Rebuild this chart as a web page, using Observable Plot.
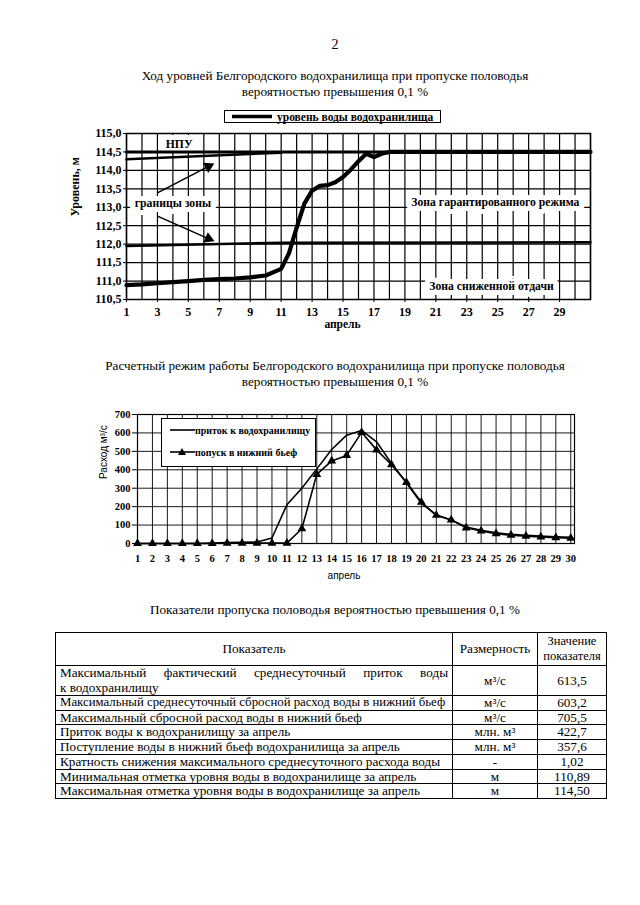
<!DOCTYPE html>
<html><head><meta charset="utf-8">
<script src="https://cdn.jsdelivr.net/npm/d3@7"></script>
<script src="https://cdn.jsdelivr.net/npm/@observablehq/plot@0.6"></script>
<style>
body{margin:0;background:#fff;}
#page{position:relative;width:640px;height:905px;overflow:hidden;font-family:"Liberation Serif","DejaVu Serif","Times New Roman",serif;color:#000;background:#fff;}
.t{position:absolute;left:35px;width:600px;text-align:center;font-size:13.2px;line-height:15.5px;}
.abs{position:absolute;}
#tbl{position:absolute;left:55px;top:632px;width:551px;border-collapse:collapse;table-layout:fixed;font-size:13.2px;}
#tbl td,#tbl th{border:1px solid #000;padding:0 4px;line-height:13.7px;height:13.7px;font-weight:normal;white-space:nowrap;overflow:hidden;}
#tbl th{height:32px;white-space:normal;}
#tbl td.c{text-align:center;}
#tbl td.j div.first{text-align:justify;text-align-last:justify;}
#tbl td.j div{line-height:14.5px;}
</style></head><body><div id="page">
<div class="t" style="top:37px;font-size:14px;">2</div>
<div class="t" style="top:68px;">Ход уровней Белгородского водохранилища при пропуске половодья<br>вероятностью превышения 0,1 %</div>
<div id="c1" class="abs" style="left:0;top:105px;"></div>
<svg class="abs" style="left:224px;top:110px;" width="218" height="14">
<rect x="0.5" y="0.5" width="216" height="12" fill="#fff" stroke="#000" stroke-width="1"/>
<line x1="8" x2="48" y1="6.5" y2="6.5" stroke="#000" stroke-width="3.5"/>
<text class="sf" x="53" y="10.5" font-weight="bold" font-size="11.5">уровень воды водохранилища</text>
</svg>
<div class="t" style="top:358px;">Расчетный режим работы Белгородского водохранилища при пропуске половодья<br>вероятностью превышения 0,1 %</div>
<div id="c2" class="abs" style="left:0;top:395px;"></div>
<svg class="abs" style="left:161px;top:418px;" width="156" height="50">
<rect x="0.5" y="0.5" width="154" height="48" fill="#fff" stroke="#000" stroke-width="1"/>
<line x1="9" x2="34" y1="12" y2="12" stroke="#000" stroke-width="1.6"/>
<text class="sf" x="34" y="15.5" font-weight="bold" font-size="10">приток к водохранилищу</text>
<line x1="9" x2="34" y1="34" y2="34" stroke="#000" stroke-width="1.6"/>
<path d="M21,30 L25,37 L17,37 Z" fill="#000"/>
<text class="sf" x="34" y="37.5" font-weight="bold" font-size="10">попуск в нижний бьеф</text>
</svg>
<div class="t" style="top:602px;">Показатели пропуска половодья вероятностью превышения 0,1 %</div>
<table id="tbl"><colgroup><col style="width:397px"><col style="width:85px"><col style="width:69px"></colgroup>
<thead><tr><th>Показатель</th><th>Размерность</th><th style="font-size:12.5px;line-height:15px;">Значение показателя</th></tr></thead>
<tbody></tbody></table>
</div>
<script>
// ---- Chart 1: reservoir level ----
const levelDays = [1,2,3,4,5,6,7,8,9,10,11,11.5,12,12.5,13,13.5,14,14.5,15,15.5,16,16.5,17,17.5,18,19,20,21,22,23,24,25,26,27,28,29,30,31];
const levelValues = [110.89,110.91,110.94,110.97,111.00,111.03,111.05,111.07,111.10,111.15,111.33,111.75,112.45,113.10,113.45,113.58,113.60,113.68,113.82,114.02,114.25,114.45,114.36,114.45,114.50,114.50,114.50,114.50,114.50,114.50,114.50,114.50,114.50,114.50,114.50,114.50,114.50,114.50];
const npuDays = [1,31];
const npuValues = [114.5,114.5];
const upperDays = [1,11];
const upperValues = [114.30,114.48];
const lowerDays = [1,11,31];
const lowerValues = [111.95,112.04,112.05];
const annLabels = ["НПУ","границы зоны","Зона гарантированного режима","Зона сниженной отдачи"];
const annDays = [4.4,4.0,24.85,24.6];
const annLevels = [114.72,113.12,113.13,110.87];
const arrowFromDays = [3.0,3.0];
const arrowFromLevels = [113.39,112.76];
const arrowToDays = [6.4,6.4];
const arrowToLevels = [114.13,112.13];
const xTicks1 = [1,3,5,7,9,11,13,15,17,19,21,23,25,27,29];
const yTicks1 = [110.5,111,111.5,112,112.5,113,113.5,114,114.5,115];
const gridDays1 = d3.range(1,32);

// ---- Chart 2: discharges ----
const flowDays = [1,2,3,4,5,6,7,8,9,10,11,12,13,14,15,16,17,18,19,20,21,22,23,24,25,26,27,28,29,30];
const inflow = [0,0,0,0,0,2,5,6,8,30,210,300,405,510,588,613.5,552,435,330,218,155,128,90,72,58,50,45,40,37,34];
const release = [0,0,0,0,0,0,2,2,2,2,2,80,375,448,478,603.2,508,428,332,224,153,128,85,68,53,45,40,36,32,29];
const yTicks2 = [0,100,200,300,400,500,600,700];

// ---- Table ----
const indicators = ["Максимальный фактический среднесуточный приток воды\nк водохранилищу","Максимальный среднесуточный сбросной расход воды в нижний бьеф","Максимальный сбросной расход воды в нижний бьеф","Приток воды к водохранилищу за апрель","Поступление воды в нижний бьеф водохранилища за апрель","Кратность снижения максимального среднесуточного расхода воды","Минимальная отметка уровня воды в водохранилище за апрель","Максимальная отметка уровня воды в водохранилище за апрель"];
const units = ["м³/с","м³/с","м³/с","млн. м³","млн. м³","-","м","м"];
const values = ["613,5","603,2","705,5","422,7","357,6","1,02","110,89","114,50"];

// pick an installed serif font
function hasFont(name) {
  const c = document.createElement("canvas").getContext("2d");
  const s = "Ход уровней Белгородского водохранилища mmwwii 0123";
  for (const base of ["monospace", "sans-serif"]) {
    c.font = `40px ${base}`; const w0 = c.measureText(s).width;
    c.font = `40px "${name}", ${base}`; const w1 = c.measureText(s).width;
    if (Math.abs(w0 - w1) > 0.5) return true;
  }
  return false;
}
const SERIF = ["Liberation Serif", "DejaVu Serif", "Noto Serif", "Times New Roman", "FreeSerif"].find(hasFont) || "serif";
const SANS = ["Liberation Sans", "Arial", "DejaVu Sans"].find(hasFont) || "sans-serif";
document.getElementById("page").style.fontFamily = `"${SERIF}", serif`;
document.querySelectorAll("text.sf").forEach(t => t.setAttribute("font-family", SERIF));

const pts = (xs, ys) => xs.map((x,i)=>({x, y: ys[i]}));
const comma = d => d.toFixed(1).replace(".", ",");

const p1 = Plot.plot({
  width: 640, height: 240,
  marginTop: 28, marginBottom: 46, marginLeft: 126, marginRight: 50,
  x: {domain: [1,31]},
  y: {domain: [110.5,115]},
  style: {fontFamily: SERIF, fontSize: "12px", fontWeight: "bold", background: "transparent", overflow: "visible"},
  marks: [
    Plot.ruleX(gridDays1, {stroke: "#000", strokeWidth: 1.2}),
    Plot.ruleY(yTicks1, {stroke: "#000", strokeWidth: 1.2}),
    Plot.text(annLabels.map((t,i)=>({t, x: annDays[i], y: annLevels[i]})), {x: "x", y: "y", text: "t", fill: "#000", stroke: "#fff", strokeWidth: 10, fontSize: 11.7, fontWeight: "bold"}),
    Plot.line(pts(npuDays, npuValues), {x: "x", y: "y", stroke: "#000", strokeWidth: 3}),
    Plot.line(pts(upperDays, upperValues), {x: "x", y: "y", stroke: "#000", strokeWidth: 2.5}),
    Plot.line(pts(lowerDays, lowerValues), {x: "x", y: "y", stroke: "#000", strokeWidth: 2.5}),
    Plot.line(pts(levelDays, levelValues), {x: "x", y: "y", stroke: "#000", strokeWidth: 4.2, strokeLinejoin: "round"}),
    Plot.link(arrowFromDays.map((d,i)=>({x1: d, y1: arrowFromLevels[i], x2: arrowToDays[i], y2: arrowToLevels[i]})), {x1: "x1", y1: "y1", x2: "x2", y2: "y2", stroke: "#000", strokeWidth: 1.5}),
    Plot.dot([{x: arrowToDays[0], y: arrowToLevels[0]}], {x: "x", y: "y", symbol: "triangle", r: 4.2, fill: "#000", rotate: 63, dx: -1.5, dy: 0.8}),
    Plot.dot([{x: arrowToDays[1], y: arrowToLevels[1]}], {x: "x", y: "y", symbol: "triangle", r: 4.2, fill: "#000", rotate: 114, dx: -1.5, dy: -0.7}),
    Plot.frame({stroke: "#000", strokeWidth: 1.5}),
    Plot.axisX(xTicks1, {tickSize: 3, tickPadding: 5, tickFormat: d => String(d), label: null, fontWeight: "bold"}),
    Plot.axisY(yTicks1, {tickSize: 3, tickPadding: 2, tickFormat: comma, label: null, fontWeight: "bold"}),
    Plot.text(["апрель"], {frameAnchor: "bottom", dy: 28, dx: -16, fontWeight: "bold", fontSize: 11.5}),
    Plot.text(["Уровень, м"], {frameAnchor: "left", dx: -51, rotate: -90, fontWeight: "bold", fontSize: 12})
  ]
});
document.getElementById("c1").appendChild(p1);

const p2 = Plot.plot({
  width: 640, height: 200,
  marginTop: 19, marginBottom: 52, marginLeft: 137, marginRight: 66,
  x: {domain: [1,30.25]},
  y: {domain: [0,700]},
  style: {fontFamily: SERIF, fontSize: "10.5px", fontWeight: "bold", background: "transparent", overflow: "visible"},
  marks: [
    Plot.ruleX(flowDays, {stroke: "#000", strokeWidth: 0.9}),
    Plot.ruleY(yTicks2, {stroke: "#000", strokeWidth: 0.9}),
    Plot.line(pts(flowDays, inflow), {x: "x", y: "y", stroke: "#000", strokeWidth: 1.6}),
    Plot.line(pts(flowDays, release), {x: "x", y: "y", stroke: "#000", strokeWidth: 1.6}),
    Plot.dot(pts(flowDays, release), {x: "x", y: "y", symbol: "triangle", fill: "#000", r: 3.3}),
    Plot.frame({stroke: "#000", strokeWidth: 1.2}),
    Plot.axisX(flowDays, {tickSize: 0, tickPadding: 11, tickFormat: d => String(d), label: null, fontWeight: "bold"}),
    Plot.axisY(yTicks2, {tickSize: 5, tickPadding: 2, tickFormat: d => String(d), label: null, fontWeight: "bold"}),
    Plot.text(["апрель"], {frameAnchor: "bottom", dy: 35, dx: -12, fontFamily: SANS, fontWeight: "normal", fontSize: 10}),
    Plot.text(["Расход м³/с"], {frameAnchor: "left", dx: -34, rotate: -90, fontFamily: SANS, fontWeight: "normal", fontSize: 10})
  ]
});
document.getElementById("c2").appendChild(p2);

const tbody = document.querySelector("#tbl tbody");
indicators.forEach((txt, i) => {
  const tr = document.createElement("tr");
  const td1 = document.createElement("td");
  td1.className = "j";
  const parts = txt.split("\n");
  if (parts.length > 1) {
    td1.style.whiteSpace = "normal";
    const a = document.createElement("div"); a.className = "first"; a.textContent = parts[0];
    const b = document.createElement("div"); b.textContent = parts[1];
    td1.appendChild(a); td1.appendChild(b);
  } else td1.textContent = txt;
  const td2 = document.createElement("td"); td2.className = "c"; td2.textContent = units[i];
  const td3 = document.createElement("td"); td3.className = "c"; td3.textContent = values[i];
  tr.append(td1, td2, td3);
  tbody.appendChild(tr);
});
// shrink any single-line cell that would overflow its column
document.querySelectorAll("#tbl td").forEach(td => {
  let fs = 13.2;
  while (td.scrollWidth > td.clientWidth + 0.5 && fs > 9) { fs -= 0.2; td.style.fontSize = fs + "px"; }
});
</script>
</body></html>
